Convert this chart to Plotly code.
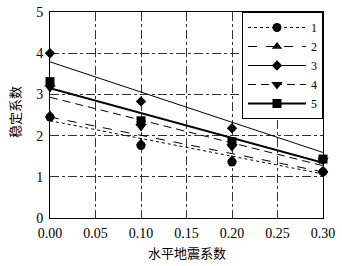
import plotly.graph_objects as go

# Data
x_vals = [0.0, 0.1, 0.2, 0.3]
series_names = ["1", "2", "3", "4", "5"]
s1 = [2.45, 1.76, 1.36, 1.12]
s2 = [2.50, 1.82, 1.42, 1.15]
s3 = [4.00, 2.83, 2.18, 1.12]
s4 = [3.17, 2.22, 1.73, 1.40]
s5 = [3.31, 2.36, 1.85, 1.43]

# Trend lines (values at x = 0 and x = 0.3)
fit_x = [0.0, 0.3]
f1 = [2.36, 1.07]
f2 = [2.45, 1.12]
f3 = [3.79, 1.59]
f4 = [2.93, 1.27]
f5 = [3.15, 1.34]

x_ticks = [0.0, 0.05, 0.10, 0.15, 0.20, 0.25, 0.30]
x_tick_text = ["0.00", "0.05", "0.10", "0.15", "0.20", "0.25", "0.30"]
y_ticks = [0, 1, 2, 3, 4, 5]
x_title = "水平地震系数"
y_title = "稳定系数"

points = [s1, s2, s3, s4, s5]
fits = [f1, f2, f3, f4, f5]
symbols = ["circle", "triangle-up", "diamond", "triangle-down", "square"]
msizes = [9, 9, 8, 10, 9]
dashes = ["dot", "dash", "solid", "8px,5px", "solid"]
widths = [1, 1, 1, 1, 2]

fig = go.Figure()
for name, p, f, sym, ms, d, w in zip(series_names, points, fits, symbols, msizes, dashes, widths):
    fig.add_trace(go.Scatter(x=fit_x, y=f, mode="lines",
                             line=dict(color="black", width=w, dash=d),
                             showlegend=False, hoverinfo="skip", cliponaxis=False))
    fig.add_trace(go.Scatter(x=x_vals, y=p, mode="markers",
                             marker=dict(symbol=sym, size=ms, color="black"),
                             showlegend=False, cliponaxis=False))
    fig.add_trace(go.Scatter(x=[None], y=[None], mode="lines+markers", name=name,
                             line=dict(color="black", width=w, dash=d),
                             marker=dict(symbol=sym, size=ms, color="black")))

axis_common = dict(showline=True, linecolor="black", linewidth=1, mirror=True,
                   showgrid=True, gridcolor="#333333", griddash="dashdot", gridwidth=1,
                   zeroline=False, ticks="", automargin=False,
                   tickfont=dict(family="Liberation Serif", size=14, color="black"))

title_font = dict(family="Noto Sans CJK SC", size=13, color="black")

fig.update_layout(
    width=342, height=266,
    margin=dict(l=50, r=19, t=12, b=48),
    paper_bgcolor="white", plot_bgcolor="white",
    xaxis=dict(range=[0, 0.3], tickvals=x_ticks, ticktext=x_tick_text,
               ticklabelstandoff=2, **axis_common),
    yaxis=dict(range=[0, 5], tickvals=y_ticks, ticklabelstandoff=3, **axis_common),
    legend=dict(x=1, y=1, xanchor="right", yanchor="top",
                bgcolor="white", bordercolor="black", borderwidth=1,
                font=dict(family="Liberation Serif", size=12, color="black"),
                tracegroupgap=0, itemwidth=58),
    showlegend=True,
    annotations=[
        dict(text=x_title, xref="paper", yref="paper", x=0.5, y=-0.167,
             xanchor="center", yanchor="middle", showarrow=False, font=title_font),
        dict(text=y_title, xref="paper", yref="paper", x=-0.128, y=0.515,
             xanchor="center", yanchor="middle", showarrow=False, textangle=-90, font=title_font),
    ],
)

fig.write_html("out.html", config={"displayModeBar": False},
               post_script="document.body.style.margin='0';document.body.style.overflow='hidden';")
